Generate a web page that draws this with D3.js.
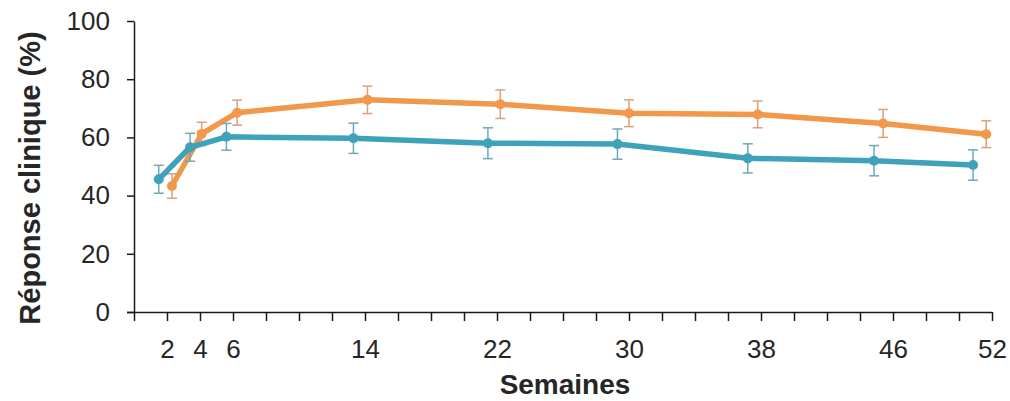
<!DOCTYPE html>
<html lang="fr">
<head>
  <meta charset="UTF-8">
  <title>Réponse clinique</title>
  <script src="https://d3js.org/d3.v7.min.js"></script>
  <style>
    body { margin: 0; background: #fff; }
    text { font-family: "Liberation Sans", Arial, sans-serif; fill: #262626; }
  </style>
</head>
<body>
<div id="chart"></div>
<script>
// Weeks (slightly offset per series as in the original), values and error bars
const blueWeeks   = [1.5, 3.4, 5.6, 13.3, 21.45, 29.3, 37.2, 44.85, 50.85];
const blueValues  = [45.6, 56.6, 60.2, 59.7, 58.0, 57.7, 52.8, 52.0, 50.5];
const blueErrors  = [4.8, 4.8, 4.6, 5.2, 5.3, 5.2, 5.0, 5.2, 5.2];

const orangeWeeks  = [2.3, 4.1, 6.25, 14.15, 22.2, 30.0, 37.8, 45.4, 51.65];
const orangeValues = [43.3, 61.2, 68.5, 72.9, 71.4, 68.3, 67.9, 64.8, 61.1];
const orangeErrors = [4.2, 4.0, 4.3, 4.7, 4.9, 4.6, 4.6, 4.8, 4.6];

const xTickValues = d3.range(0, 53, 2);
const xTickLabels = [2, 4, 6, 14, 22, 30, 38, 46, 52];
const yTickValues = [0, 20, 40, 60, 80, 100];

const width = 1010, height = 401;
const svg = d3.select("#chart").append("svg")
  .attr("width", width)
  .attr("height", height);

const x = d3.scaleLinear().domain([0, 52]).range([134, 992]);
const y = d3.scaleLinear().domain([0, 100]).range([312, 21]);

// Axes
const xAxis = d3.axisBottom(x)
  .tickValues(xTickValues)
  .tickSize(9)
  .tickSizeOuter(0)
  .tickFormat(d => xTickLabels.includes(d) ? d : "");
const gx = svg.append("g")
  .attr("transform", `translate(0,${y(0)})`)
  .call(xAxis);
gx.select(".domain").attr("d", `M${x(0) - 7},0.5H${x(52)}`);
gx.selectAll("line").attr("stroke", "#1a1a1a").attr("stroke-width", 1.5);
gx.select(".domain").attr("stroke", "#1a1a1a").attr("stroke-width", 1.5);
gx.selectAll("text")
  .attr("dy", null)
  .attr("y", 46)
  .style("font-size", "26px")
  .attr("fill", "#262626");

const yAxis = d3.axisLeft(y)
  .tickValues(yTickValues)
  .tickSize(7)
  .tickSizeOuter(0)
  .tickPadding(17);
const gy = svg.append("g")
  .attr("transform", `translate(${x(0)},0)`)
  .call(yAxis);
gy.selectAll("line").attr("stroke", "#1a1a1a").attr("stroke-width", 1.5);
gy.select(".domain").attr("stroke", "#1a1a1a").attr("stroke-width", 1.5);
gy.selectAll("text")
  .style("font-size", "26px")
  .attr("fill", "#262626");

// Axis titles
svg.append("text")
  .attr("x", 565)
  .attr("y", 394)
  .attr("text-anchor", "middle")
  .style("font-size", "28px")
  .style("font-weight", "bold")
  .text("Semaines");

svg.append("text")
  .attr("transform", `translate(40,${178}) rotate(-90)`)
  .attr("text-anchor", "middle")
  .style("font-size", "29px")
  .style("font-weight", "bold")
  .text("Réponse clinique (%)");

// Series
const series = [
  { weeks: orangeWeeks, values: orangeValues, errors: orangeErrors, color: "#f2984b", err: "#d9a27a" },
  { weeks: blueWeeks, values: blueValues, errors: blueErrors, color: "#3ea2ba", err: "#6fa9b8" }
];

const line = d3.line().x(d => x(d.w)).y(d => y(d.v));

series.forEach(s => {
  const pts = s.weeks.map((w, i) => ({ w, v: s.values[i], e: s.errors[i] }));
  const g = svg.append("g");

  g.append("path")
    .datum(pts)
    .attr("fill", "none")
    .attr("stroke", s.color)
    .attr("stroke-width", 5.5)
    .attr("stroke-linejoin", "round")
    .attr("d", line);

  const eb = g.selectAll(".err").data(pts).enter().append("g");
  eb.append("line")
    .attr("x1", d => x(d.w)).attr("x2", d => x(d.w))
    .attr("y1", d => y(d.v + d.e)).attr("y2", d => y(d.v - d.e))
    .attr("stroke", s.err).attr("stroke-width", 1.5);
  eb.append("line")
    .attr("x1", d => x(d.w) - 5).attr("x2", d => x(d.w) + 5)
    .attr("y1", d => y(d.v + d.e)).attr("y2", d => y(d.v + d.e))
    .attr("stroke", s.err).attr("stroke-width", 1.5);
  eb.append("line")
    .attr("x1", d => x(d.w) - 5).attr("x2", d => x(d.w) + 5)
    .attr("y1", d => y(d.v - d.e)).attr("y2", d => y(d.v - d.e))
    .attr("stroke", s.err).attr("stroke-width", 1.5);

  g.selectAll("circle").data(pts).enter().append("circle")
    .attr("cx", d => x(d.w))
    .attr("cy", d => y(d.v))
    .attr("r", 5)
    .attr("fill", s.color);
});
</script>
</body>
</html>
